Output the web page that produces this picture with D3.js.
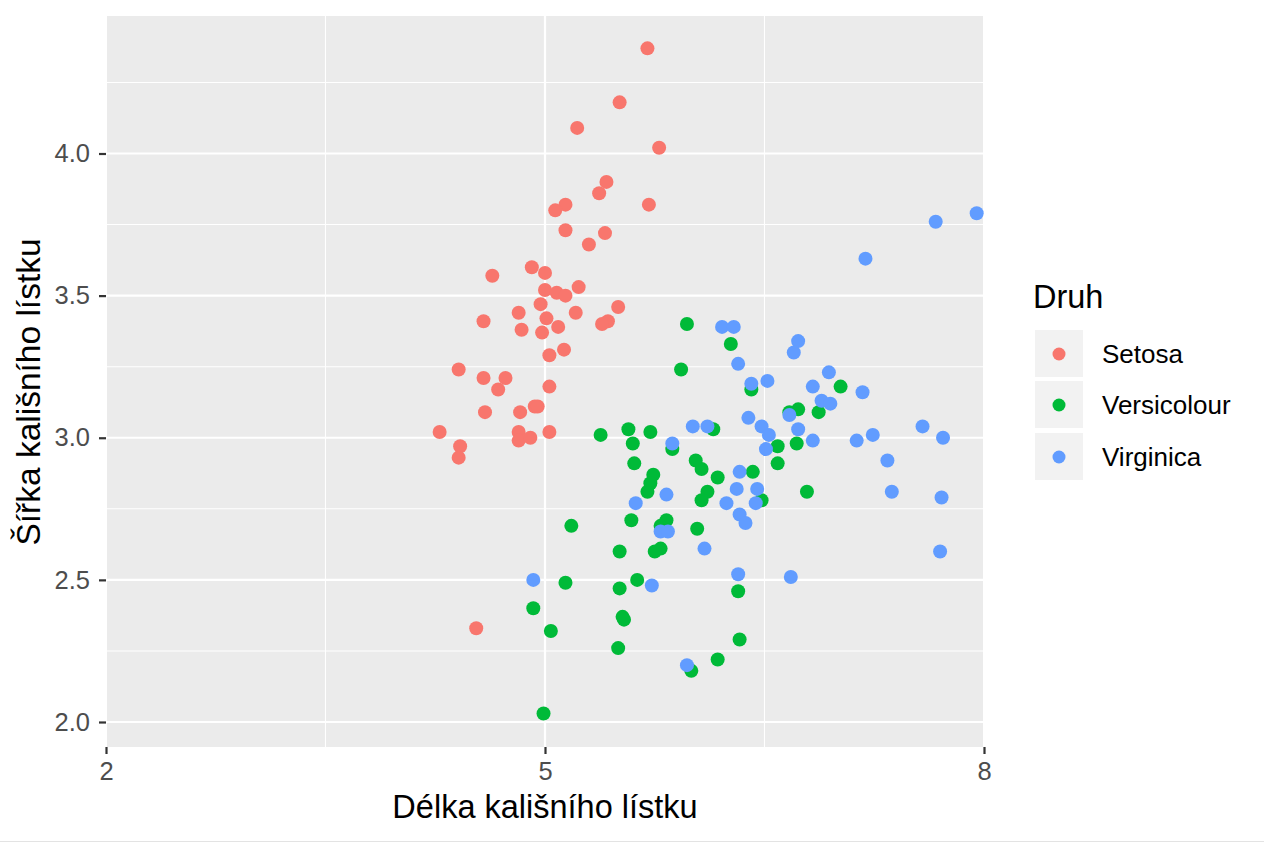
<!DOCTYPE html>
<html>
<head>
<meta charset="utf-8">
<script src="https://cdn.jsdelivr.net/npm/d3@7"></script>
<style>
  html, body { margin: 0; padding: 0; background: #fff; }
  svg { display: block; font-family: "Liberation Sans", Arial, Helvetica, sans-serif; }
</style>
</head>
<body>
<svg id="chart" width="1264" height="843"></svg>
<script>
// ---- data (jittered iris sepal length / width) ----
const species = ["Setosa", "Versicolour", "Virginica"];
const colors = ["#F8766D", "#00BA38", "#619CFF"];

const setosaX = [5.70,5.51,5.22,5.78,5.42,5.37,5.71,5.14,5.07,5.14,5.41,5.30,4.91,5.00,4.64,5.23,5.00,5.08,5.14,5.50,4.97,4.82,5.21,5.01,4.58,5.43,5.39,5.09,4.84,4.98,5.13,5.03,4.41,4.58,4.73,4.68,5.03,4.59,4.93,4.95,4.83,4.82,4.28,5.03,4.82,4.90,4.42,4.41,4.53];
const setosaY = [4.37,4.18,4.09,4.02,3.90,3.86,3.82,3.82,3.80,3.73,3.72,3.68,3.60,3.58,3.57,3.53,3.52,3.51,3.50,3.46,3.47,3.44,3.44,3.42,3.41,3.41,3.40,3.39,3.38,3.37,3.31,3.29,3.24,3.21,3.21,3.17,3.18,3.09,3.11,3.11,3.09,3.02,3.02,3.02,2.99,3.00,2.97,2.93,2.33];

const versicolourX = [5.97,6.27,5.93,6.41,5.38,5.57,5.60,5.72,6.15,5.87,5.61,6.03,6.07,6.18,5.74,5.72,5.70,6.11,6.07,6.42,6.48,6.59,6.59,6.72,6.67,6.73,6.87,7.02,6.79,5.18,5.59,5.83,5.79,6.04,5.51,5.79,5.75,5.14,5.63,5.51,6.32,4.92,5.53,5.54,5.04,5.50,6.33,6.18,6.00,4.99];
const versicolourY = [3.40,3.33,3.24,3.17,3.01,3.03,2.98,3.02,3.03,2.96,2.91,2.92,2.89,2.86,2.87,2.84,2.81,2.81,2.78,2.88,2.78,2.91,2.97,2.98,3.09,3.10,3.09,3.18,2.81,2.69,2.71,2.71,2.69,2.68,2.60,2.61,2.60,2.49,2.50,2.47,2.46,2.40,2.37,2.36,2.32,2.26,2.29,2.22,2.18,2.03];

const virginicaX = [7.67,7.95,7.19,6.21,6.29,6.73,6.70,6.32,6.94,6.41,6.52,6.83,7.17,6.89,6.95,6.67,6.39,6.11,6.01,6.48,6.53,6.73,6.51,6.83,7.13,7.24,7.58,7.72,7.34,7.37,7.71,7.70,6.68,5.87,5.83,5.62,6.33,6.31,6.45,6.24,6.44,6.33,6.37,5.79,5.84,6.09,4.92,5.73,6.32,5.97];
const virginicaY = [3.76,3.79,3.63,3.39,3.39,3.34,3.30,3.26,3.23,3.19,3.20,3.18,3.16,3.13,3.12,3.08,3.07,3.04,3.04,3.04,3.01,3.03,2.96,2.99,2.99,3.01,3.04,3.00,2.92,2.81,2.79,2.60,2.51,2.98,2.80,2.77,2.88,2.82,2.82,2.77,2.77,2.73,2.70,2.67,2.67,2.61,2.50,2.48,2.52,2.20];

const xMajor = [2, 5, 8];
const xMinor = [3.5, 6.5];
const xTickLabels = ["2", "5", "8"];
const yMajor = [2.0, 2.5, 3.0, 3.5, 4.0];
const yMinor = [2.25, 2.75, 3.25, 3.75, 4.25];
const yTickLabels = ["2.0", "2.5", "3.0", "3.5", "4.0"];

const xTitle = "Délka kališního lístku";
const yTitle = "Šířka kališního lístku";
const legendTitle = "Druh";

// ---- layout ----
const svg = d3.select("#chart");
const panel = { left: 106, right: 984, top: 16, bottom: 747 };

const x = d3.scaleLinear().domain([2, 8]).range([panel.left, panel.right]);
const y = d3.scaleLinear().domain([2, 4]).range([722, 153.5]);

// panel background
svg.append("rect")
  .attr("x", panel.left + 1).attr("y", panel.top)
  .attr("width", panel.right - panel.left - 2).attr("height", panel.bottom - panel.top)
  .attr("fill", "#EBEBEB");

const grid = svg.append("g");
// minor grid
grid.selectAll(".ymin").data(yMinor).join("line")
  .attr("x1", panel.left + 1).attr("x2", panel.right - 1)
  .attr("y1", d => y(d)).attr("y2", d => y(d))
  .attr("stroke", "#fff").attr("stroke-width", 1.1);
grid.selectAll(".xmin").data(xMinor).join("line")
  .attr("y1", panel.top).attr("y2", panel.bottom)
  .attr("x1", d => x(d)).attr("x2", d => x(d))
  .attr("stroke", "#fff").attr("stroke-width", 1.1);
// major grid
grid.selectAll(".ymaj").data(yMajor).join("line")
  .attr("x1", panel.left + 1).attr("x2", panel.right - 1)
  .attr("y1", d => y(d)).attr("y2", d => y(d))
  .attr("stroke", "#fff").attr("stroke-width", 2.2);
grid.selectAll(".xmaj").data(xMajor.filter(d => d > 2 && d < 8)).join("line")
  .attr("y1", panel.top).attr("y2", panel.bottom)
  .attr("x1", d => x(d)).attr("x2", d => x(d))
  .attr("stroke", "#fff").attr("stroke-width", 2.2);

// points
const groups = [
  { xs: setosaX, ys: setosaY },
  { xs: versicolourX, ys: versicolourY },
  { xs: virginicaX, ys: virginicaY }
];
const pts = svg.append("g");
groups.forEach((g, i) => {
  const data = g.xs.map((v, k) => ({ x: v, y: g.ys[k] }));
  pts.selectAll(".p" + i).data(data).join("circle")
    .attr("cx", d => x(d.x)).attr("cy", d => y(d.y))
    .attr("r", 7).attr("fill", colors[i]);
});

// axes
const fontTick = 25.5;
const fontTitle = 32.5;
const xAxis = d3.axisBottom(x).tickValues(xMajor)
  .tickFormat((d, i) => xTickLabels[i]).tickSize(7).tickPadding(8);
const gx = svg.append("g").attr("transform", `translate(0,${panel.bottom})`).call(xAxis);
gx.select(".domain").remove();
gx.selectAll(".tick line").attr("stroke", "#333").attr("stroke-width", 2.2);
gx.selectAll(".tick text").attr("fill", "#4D4D4D").attr("font-size", fontTick)
  .attr("font-family", "Liberation Sans, Arial, sans-serif");

const yAxis = d3.axisLeft(y).tickValues(yMajor)
  .tickFormat((d, i) => yTickLabels[i]).tickSize(7).tickPadding(9);
const gy = svg.append("g").attr("transform", `translate(${panel.left},0)`).call(yAxis);
gy.select(".domain").remove();
gy.selectAll(".tick line").attr("stroke", "#333").attr("stroke-width", 2.2);
gy.selectAll(".tick text").attr("fill", "#4D4D4D").attr("font-size", fontTick)
  .attr("font-family", "Liberation Sans, Arial, sans-serif");

// axis titles
svg.append("text")
  .attr("x", (panel.left + panel.right) / 2).attr("y", 818)
  .attr("text-anchor", "middle").attr("font-size", fontTitle).attr("fill", "#000")
  .text(xTitle);
svg.append("text")
  .attr("transform", "translate(40,392) rotate(-90)")
  .attr("text-anchor", "middle").attr("font-size", 33.5).attr("fill", "#000")
  .text(yTitle);

// legend
const leg = svg.append("g");
leg.append("text").attr("x", 1033).attr("y", 308)
  .attr("font-size", fontTitle).attr("fill", "#000").text(legendTitle);
const keyTop = [330, 381, 433];
species.forEach((s, i) => {
  leg.append("rect").attr("x", 1035).attr("y", keyTop[i])
    .attr("width", 48).attr("height", 47).attr("fill", "#F2F2F2");
  leg.append("circle").attr("cx", 1059).attr("cy", keyTop[i] + 24)
    .attr("r", 6.5).attr("fill", colors[i]);
  leg.append("text").attr("x", 1102).attr("y", keyTop[i] + 24 + 9)
    .attr("font-size", 26).attr("fill", "#000").text(s);
});

// faint bottom border line
svg.append("line").attr("x1", 0).attr("x2", 1264).attr("y1", 841.5).attr("y2", 841.5)
  .attr("stroke", "#E3E3E3").attr("stroke-width", 1);
</script>
</body>
</html>
